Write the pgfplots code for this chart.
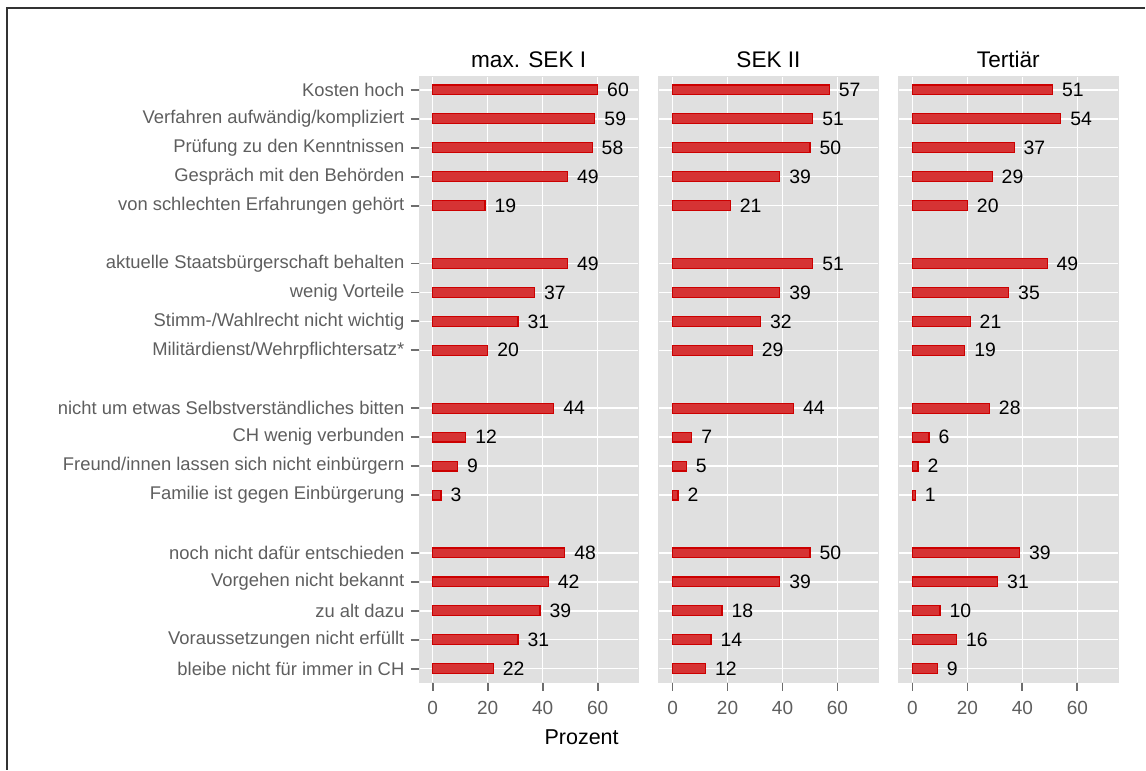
\documentclass[border=0pt]{standalone}
\usepackage{fontspec}
\setmainfont{Liberation Sans}
\usepackage{pgfplots}
\pgfplotsset{compat=1.18}
\definecolor{panel}{HTML}{E0E0E0}
\definecolor{barfill}{HTML}{D63334}
\definecolor{barline}{HTML}{CC0000}
\definecolor{labgray}{HTML}{5E5E5E}
\definecolor{tickgray}{HTML}{6E6E6E}
\definecolor{frame}{HTML}{333333}

% rows counted from the bottom: row k of the chart sits at y = 20-k
\pgfplotsset{
  facet/.style={
    scale only axis, width=110pt, height=303.5pt, anchor=south west,
    xmin=-5.1, xmax=74.9, ymin=-0.48, ymax=20.48,
    axis background/.style={fill=panel},
    axis line style={draw=panel, line width=0.2pt},
    xtick={0,20,40,60},
    ytick={0,1,2,3,4,6,7,8,9,11,12,13,14,16,17,18,19,20},
    xtick pos=bottom, ytick pos=left,
    grid=major, grid style={draw=white, line width=0.75pt},
    tick align=outside, major tick length=4pt,
    tick style={draw=tickgray, line width=0.9pt},
    xticklabel style={font=\fontsize{9.5}{11}\selectfont, text=labgray, anchor=north, inner sep=0pt, yshift=-5pt},
    /pgf/number format/assume math mode=true,
    title style={font=\fontsize{11.3}{13}\selectfont, anchor=base, at={(0.5,1)}, yshift=-2pt},
    clip=false,
  },
  bars/.style={
    xbar, bar shift=0pt, bar width=4.9pt, fill=barfill, draw=barline, line width=0.6pt,
    point meta=x, nodes near coords,
    nodes near coords style={anchor=west, inner sep=0pt, xshift=4.5pt,
      font=\fontsize{9.7}{11}\selectfont, text=black},
  },
  noy/.style={yticklabels={}, every major y tick/.append style={draw=none}},
}

\begin{document}
\begin{tikzpicture}
\path (0,0) rectangle (573pt,385pt);
\draw[frame, line width=0.75pt] (3.5pt,0) -- (3.5pt,381pt) -- (573pt,381pt);

\begin{axis}[facet, at={(209.5pt,43.5pt)}, title={max. SEK I},
  yticklabel style={font=\fontsize{9.2}{11}\selectfont, text=labgray, anchor=east, inner sep=0pt, xshift=-3pt},
  yticklabels={bleibe nicht für immer in CH, Voraussetzungen nicht erfüllt, zu alt dazu,
    Vorgehen nicht bekannt, noch nicht dafür entschieden,
    Familie ist gegen Einbürgerung, Freund/innen lassen sich nicht einbürgern,
    CH wenig verbunden, nicht um etwas Selbstverständliches bitten,
    Militärdienst/Wehrpflichtersatz*, Stimm-/Wahlrecht nicht wichtig, wenig Vorteile,
    aktuelle Staatsbürgerschaft behalten,
    von schlechten Erfahrungen gehört, Gespräch mit den Behörden,
    Prüfung zu den Kenntnissen, Verfahren aufwändig/kompliziert, Kosten hoch},
]
\addplot[bars] coordinates {
  (60,20) (59,19) (58,18) (49,17) (19,16)
  (49,14) (37,13) (31,12) (20,11)
  (44,9) (12,8) (9,7) (3,6)
  (48,4) (42,3) (39,2) (31,1) (22,0)};
\end{axis}

\begin{axis}[facet, noy, at={(329.5pt,43.5pt)}, title={SEK II}]
\addplot[bars] coordinates {
  (57,20) (51,19) (50,18) (39,17) (21,16)
  (51,14) (39,13) (32,12) (29,11)
  (44,9) (7,8) (5,7) (2,6)
  (50,4) (39,3) (18,2) (14,1) (12,0)};
\end{axis}

\begin{axis}[facet, noy, at={(449.5pt,43.5pt)}, title={Tertiär}]
\addplot[bars] coordinates {
  (51,20) (54,19) (37,18) (29,17) (20,16)
  (49,14) (35,13) (21,12) (19,11)
  (28,9) (6,8) (2,7) (1,6)
  (39,4) (31,3) (10,2) (16,1) (9,0)};
\end{axis}

\node[font=\fontsize{10.75}{13}\selectfont, anchor=center] at (291pt,16pt) {Prozent};
\end{tikzpicture}
\end{document}
